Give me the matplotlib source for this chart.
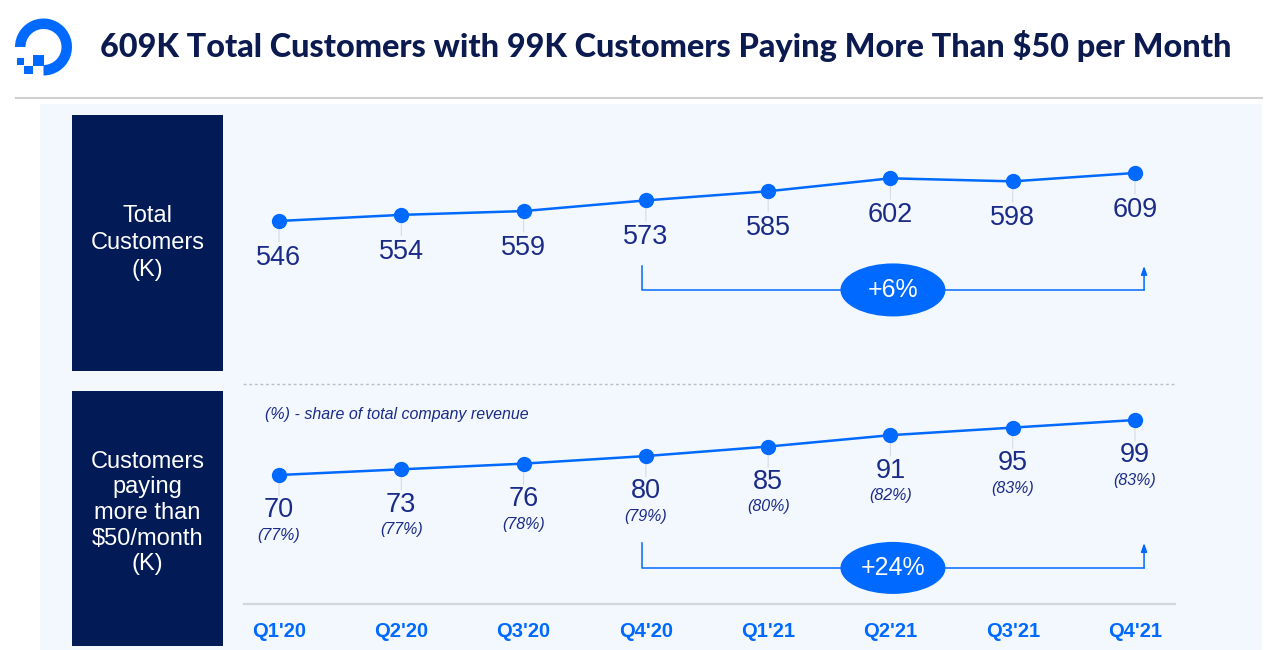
import matplotlib
matplotlib.use("Agg")
import matplotlib.pyplot as plt
import matplotlib.transforms as mtransforms
from matplotlib.patches import Rectangle, Ellipse, Wedge

quarters = ["Q1'20", "Q2'20", "Q3'20", "Q4'20", "Q1'21", "Q2'21", "Q3'21", "Q4'21"]
total_customers = [546, 554, 559, 573, 585, 602, 598, 609]
paying_customers = [70, 73, 76, 80, 85, 91, 95, 99]
revenue_share = [77, 77, 78, 79, 80, 82, 83, 83]
total_growth = "+6%"
paying_growth = "+24%"
title_text = "609K Total Customers with 99K Customers Paying More Than $50 per Month"

W, H = 1280, 650
BLUE = "#0069ff"
NAVY = "#021b57"
TITLE_C = "#0b1a4f"
LABEL_C = "#1a2b88"
FONT = "Liberation Sans"

fig = plt.figure(figsize=(12.8, 6.5), dpi=100)
fig.patch.set_facecolor("white")

# background / decoration layer in pixel units (y measured from top)
bg = fig.add_axes([0, 0, 1, 1])
bg.set_xlim(0, W)
bg.set_ylim(0, H)
bg.axis("off")


def rect(x0, y0, x1, y1, **kw):
    bg.add_patch(Rectangle((x0, H - y1), x1 - x0, y1 - y0, **kw))


rect(40, 104, 1262, 650, facecolor="#f3f8fe", edgecolor="none")
bg.plot([16, 1262], [H - 98, H - 98], color="#d0d0d0", lw=1.5)
rect(72, 115, 223, 371, facecolor=NAVY, edgecolor="none")
rect(72, 391, 223, 646, facecolor=NAVY, edgecolor="none")

# logo
bg.add_patch(Wedge((43.5, H - 47), 28.5, -90, 180, width=10.5, facecolor=BLUE, edgecolor="none"))
rect(32.5, 55, 43.5, 65.5, facecolor=BLUE, edgecolor="none")
rect(17, 58, 24, 65, facecolor=BLUE, edgecolor="none")
rect(24, 65.5, 32.5, 73.5, facecolor=BLUE, edgecolor="none")

title = bg.text(100, H - 57, title_text, fontsize=22, fontweight=900, color=TITLE_C,
                family="Lato", va="baseline", ha="left")

bg.text(147.5, H - 243, "Total\nCustomers\n(K)", ha="center", va="center", color="white",
        fontsize=17, family=FONT, linespacing=1.27)
bg.text(147.5, H - 513, "Customers\npaying\nmore than\n$50/month\n(K)", ha="center", va="center",
        color="white", fontsize=17, family=FONT, linespacing=1.22)
bg.text(265, H - 415, "(%) - share of total company revenue", ha="left", va="center",
        color=LABEL_C, fontsize=11.5, style="italic", family=FONT)


def px_axes(x0, y0, x1, y1):
    return fig.add_axes([x0 / W, (H - y1) / H, (x1 - x0) / W, (y1 - y0) / H])


x = list(range(len(quarters)))

ax1 = px_axes(244, 115, 1175, 370)
ax1.set_xlim(-0.2862, 7.327)
ax1.set_ylim(350.4, 685.1)
ax1.axis("off")

ax2 = px_axes(244, 384, 1175, 604)
ax2.set_xlim(-0.2862, 7.327)
ax2.set_ylim(2.0, 117.98)
ax2.patch.set_alpha(0)
for s in ["left", "right"]:
    ax2.spines[s].set_visible(False)
ax2.spines["top"].set_linestyle((0, (1, 3)))
ax2.spines["top"].set_color("#b8bec8")
ax2.spines["top"].set_linewidth(1.0)
ax2.spines["bottom"].set_color("#d3d6da")
ax2.spines["bottom"].set_linewidth(1.6)
ax2.set_yticks([])
ax2.set_xticks(x)
ax2.set_xticklabels(quarters, fontsize=14.5, fontweight="bold", color=BLUE, family=FONT)
ax2.tick_params(axis="x", length=0, pad=13)


def draw_series(ax, vals, offset):
    ax.plot(x, vals, color=BLUE, lw=1.8, marker="o", ms=10, zorder=3, clip_on=False)
    for i, v in zip(x, vals):
        ax.annotate("", xy=(i, v), xytext=(0, -15), textcoords="offset points",
                    arrowprops=dict(arrowstyle="-", color="#d5dbe4", lw=0.8, shrinkA=0, shrinkB=0),
                    zorder=1)
        ax.annotate(str(v), xy=(i, v), xytext=(0, -offset), textcoords="offset points",
                    ha="center", va="center", fontsize=19.5, color=LABEL_C, family=FONT)


def bracket(ax, i0, i1, y_top, y_bot, text, ell_h):
    tr = mtransforms.blended_transform_factory(ax.transData, ax.transAxes)
    x0, x1 = i0 - 0.033, i1 + 0.074
    ax.plot([x0, x0, x1], [y_top, y_bot, y_bot], transform=tr, color=BLUE, lw=1.1, clip_on=False)
    ax.annotate("", xy=(x1, y_top), xytext=(x1, y_bot), xycoords=tr, textcoords=tr,
                arrowprops=dict(arrowstyle="-|>,head_length=0.5,head_width=0.18", color=BLUE,
                                lw=1.1, shrinkA=0, shrinkB=0))
    xc = (x0 + x1) / 2
    ax.add_patch(Ellipse((xc, y_bot), 105 / 122.29, ell_h, transform=tr, facecolor=BLUE,
                         edgecolor="none", zorder=4, clip_on=False))
    ax.text(xc, y_bot, text, transform=tr, ha="center", va="center", color="white",
            fontsize=18, family=FONT, zorder=5)


draw_series(ax1, total_customers, 26.5)
draw_series(ax2, paying_customers, 25.5)
for i, v, p in zip(x, paying_customers, revenue_share):
    ax2.annotate(f"({p}%)", xy=(i, v), xytext=(0, -43.5), textcoords="offset points",
                 ha="center", va="center", fontsize=11.5, style="italic", color=LABEL_C, family=FONT)

bracket(ax1, 3, 7, 0.408, 0.314, total_growth, 53 / 255)
bracket(ax2, 3, 7, 0.277, 0.164, paying_growth, 52 / 220)

# fit title to its width in the reference
fig.canvas.draw()
w = title.get_window_extent().width
title.set_fontsize(22 * 1128 / w)

fig.savefig("out.png", dpi=100)
